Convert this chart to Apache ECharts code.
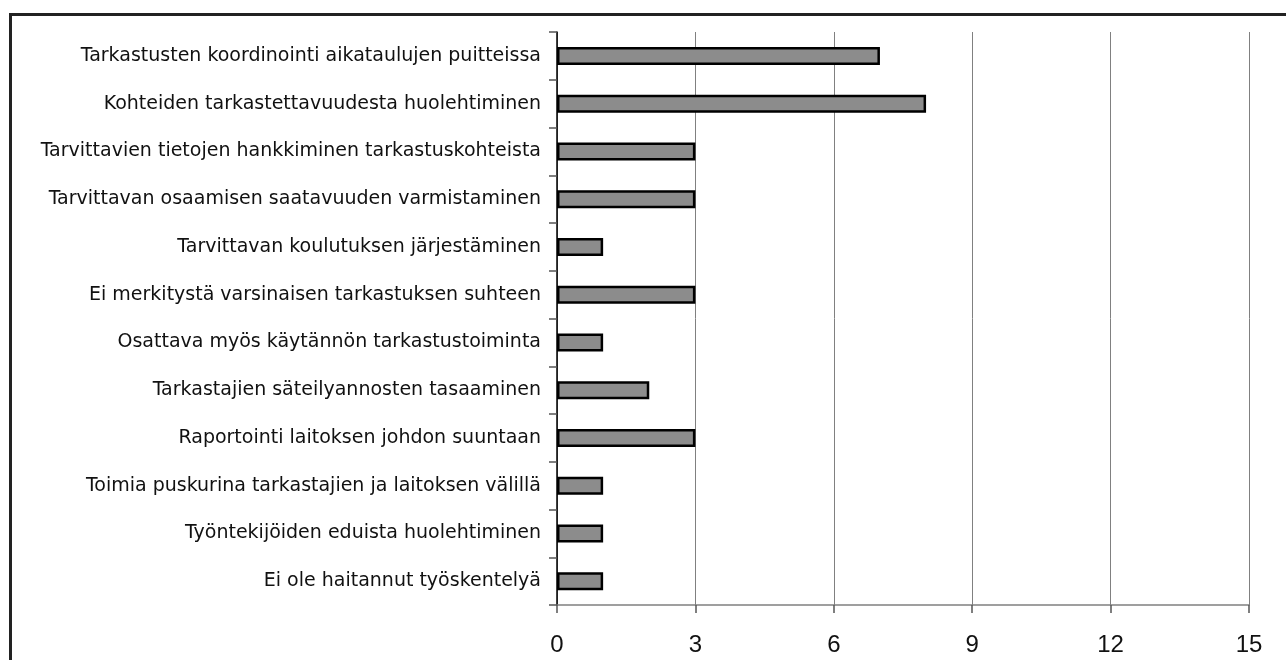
<!DOCTYPE html>
<html>
<head>
<meta charset="utf-8">
<script src="https://cdn.jsdelivr.net/npm/echarts@6/dist/echarts.min.js"></script>
<style>
  html, body { margin: 0; padding: 0; background: #fff; }
  #chart { width: 1286px; height: 660px; }
</style>
</head>
<body>
<div id="chart"></div>
<script>
  // categories top to bottom
  var categories = [
    'Tarkastusten koordinointi aikataulujen puitteissa',
    'Kohteiden tarkastettavuudesta huolehtiminen',
    'Tarvittavien tietojen hankkiminen tarkastuskohteista',
    'Tarvittavan osaamisen saatavuuden varmistaminen',
    'Tarvittavan koulutuksen järjestäminen',
    'Ei merkitystä varsinaisen tarkastuksen suhteen',
    'Osattava myös käytännön tarkastustoiminta',
    'Tarkastajien säteilyannosten tasaaminen',
    'Raportointi laitoksen johdon suuntaan',
    'Toimia puskurina tarkastajien ja laitoksen välillä',
    'Työntekijöiden eduista huolehtiminen',
    'Ei ole haitannut työskentelyä'
  ]
  var counts = [7, 8, 3, 3, 1, 3, 1, 2, 3, 1, 1, 1]
  var xTicks = [0, 3, 6, 9, 12, 15]

  var myChart = echarts.init(document.getElementById('chart'))
  myChart.setOption({
    animation: false,
    textStyle: { fontFamily: 'Liberation Sans, Arial, sans-serif' },
    graphic: [
      {
        type: 'rect',
        left: 8,
        top: 12,
        shape: { width: 1400, height: 800 },
        style: { fill: 'none', stroke: '#222', lineWidth: 3 }
      }
    ],
    grid: {
      left: 557,
      right: 37,
      top: 32,
      bottom: 55,
      containLabel: false
    },
    xAxis: {
      type: 'value',
      min: xTicks[0],
      max: xTicks[xTicks.length - 1],
      interval: 3,
      axisLine: { show: true, lineStyle: { color: '#808080', width: 1.5 } },
      axisTick: { show: true, length: 8, lineStyle: { color: '#555', width: 1.5 } },
      splitLine: { show: true, lineStyle: { color: '#808080', width: 1 } },
      axisLabel: { fontSize: 24, color: '#111', margin: 28, fontFamily: 'Liberation Sans, Arial, sans-serif' }
    },
    yAxis: {
      type: 'category',
      inverse: true,
      data: categories,
      axisLine: { show: true, onZero: false, lineStyle: { color: '#000', width: 1.5 } },
      axisTick: { show: true, length: 8, interval: 0, lineStyle: { color: '#555', width: 1.5 } },
      axisLabel: { fontSize: 19, color: '#111', margin: 16, fontFamily: 'DejaVu Sans, sans-serif' }
    },
    series: [
      {
        type: 'bar',
        data: counts,
        barWidth: 18,
        itemStyle: { color: '#8c8c8c', borderColor: '#000', borderWidth: 2.5 }
      }
    ]
  })
</script>
</body>
</html>
